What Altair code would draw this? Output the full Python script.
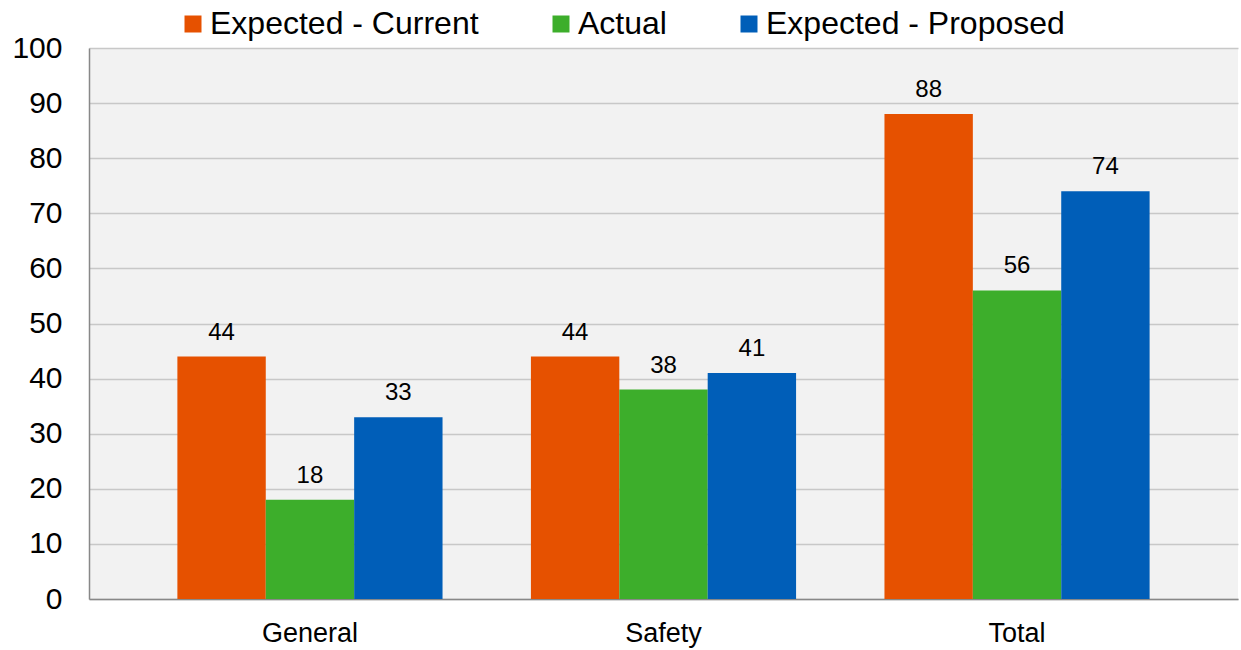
import altair as alt
import pandas as pd

categories = ["General", "Safety", "Total"]
series = ["Expected - Current", "Actual", "Expected - Proposed"]
expected_current = [44, 44, 88]
actual = [18, 38, 56]
expected_proposed = [33, 41, 74]
colors = ["#E65100", "#3DAE2B", "#005EB8"]

rows = []
for i, cat in enumerate(categories):
    for name, vals in zip(series, [expected_current, actual, expected_proposed]):
        rows.append({"category": cat, "series": name, "value": vals[i]})
df = pd.DataFrame(rows)

FONT = "Liberation Sans"

x_enc = alt.X(
    "category:N",
    sort=categories,
    scale=alt.Scale(paddingInner=0.25, paddingOuter=0.25),
    axis=alt.Axis(
        title=None, labelAngle=0, ticks=False, labelPadding=21,
        labelFontSize=27, labelColor="#000000", labelFont=FONT,
        domainColor="#888888", domainWidth=1.5, grid=False,
    ),
)
xoff_enc = alt.XOffset("series:N", sort=series, scale=alt.Scale(paddingInner=0, paddingOuter=0))
y_enc = alt.Y(
    "value:Q",
    scale=alt.Scale(domain=[0, 100], nice=False),
    axis=alt.Axis(
        title=None, values=list(range(0, 101, 10)), ticks=False, labelPadding=27,
        labelFontSize=30, labelColor="#000000", labelFont=FONT,
        domainColor="#888888", domainWidth=1.5,
        grid=True, gridColor="#c8c8c8", gridWidth=1.5,
    ),
)
color_enc = alt.Color(
    "series:N",
    sort=series,
    scale=alt.Scale(domain=series, range=colors),
    legend=alt.Legend(
        title=None, orient="none", direction="horizontal",
        legendX=88, legendY=-40,
        symbolType="square", symbolSize=289, symbolStrokeWidth=0,
        labelFontSize=32, labelFont=FONT, labelColor="#000000",
        labelOffset=1, columnPadding=66, labelLimit=0,
    ),
)

bars = alt.Chart(df).mark_bar(stroke=None).encode(
    x=x_enc, xOffset=xoff_enc, y=y_enc, color=color_enc
)

labels = alt.Chart(df).mark_text(
    baseline="alphabetic", dy=-17, fontSize=24, font=FONT, color="#000000"
).encode(
    x=alt.X("category:N", sort=categories),
    xOffset=alt.XOffset("series:N", sort=series),
    y="value:Q",
    text="value:Q",
)

chart = (
    alt.layer(bars, labels)
    .properties(
        width=1149, height=551,
        autosize=alt.AutoSizeParams(type="none"),
        padding={"left": 89, "top": 48, "right": 3, "bottom": 51},
        background="#ffffff",
    )
    .configure_view(fill="#f2f2f2", stroke=None)
)

chart.save("out.html", embed_options={"renderer": "svg", "actions": False})
